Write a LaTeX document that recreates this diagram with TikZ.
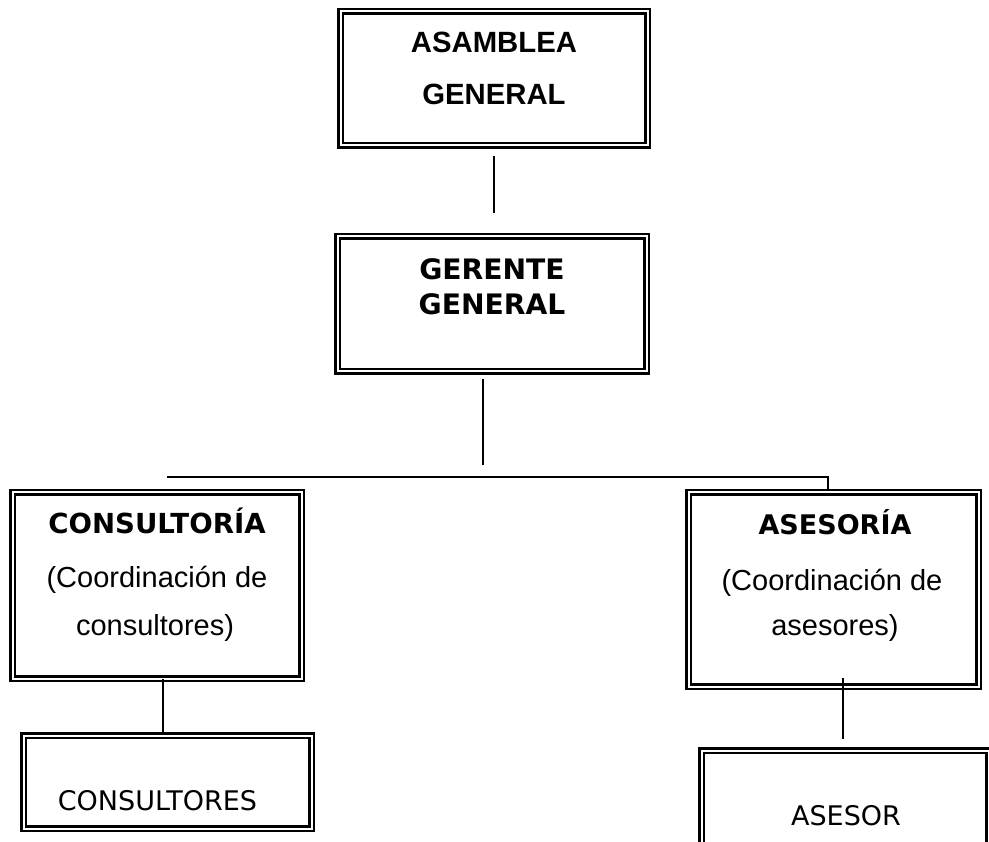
\documentclass[tikz,border=0pt]{standalone}
\usepackage{fontspec}
\newfontfamily\arialf{Liberation Sans}
\newfontfamily\verdf{DejaVu Sans}
\begin{document}
\begin{tikzpicture}[x=1pt,y=-1pt,
  orgbox/.style={draw, line width=2.5pt, double, double distance=2pt, rectangle, inner sep=0pt},
  txt/.style={anchor=base, inner sep=0pt},
  conn/.style={line width=1.5pt}]
\useasboundingbox (0,0) rectangle (989,842);
% boxes
\node[orgbox, minimum width=307pt, minimum height=134pt] (asam) at (494,78.5) {};
\node[orgbox, minimum width=309pt, minimum height=135pt] (ger) at (492,304) {};
\node[orgbox, minimum width=289pt, minimum height=186pt] (cons) at (157,585.5) {};
\node[orgbox, minimum width=290pt, minimum height=194pt] (ases) at (833.5,589.5) {};
\node[orgbox, minimum width=288pt, minimum height=93pt] (consu) at (167.5,782) {};
\node[orgbox, minimum width=287pt, minimum height=96pt] (asesor) at (845,798.5) {};
% texts
\node[txt] (t1) at (494,53) {\arialf\bfseries\fontsize{29.3}{29}\selectfont ASAMBLEA};
\node[txt] (t2) at (494,105) {\arialf\bfseries\fontsize{29.3}{29}\selectfont GENERAL};
\node[txt] (t3) at (492,280) {\verdf\bfseries\fontsize{28.2}{28}\selectfont GERENTE};
\node[txt] (t4) at (492,315) {\verdf\bfseries\fontsize{28.2}{28}\selectfont GENERAL};
\node[txt] (t5) at (157,533) {\verdf\bfseries\fontsize{27.6}{27}\selectfont CONSULTORÍA};
\node[txt] (t6) at (157,587) {\arialf\fontsize{29}{29}\selectfont (Coordinación de};
\node[txt] (t7) at (155,635) {\arialf\fontsize{29}{29}\selectfont consultores)};
\node[txt] (t8) at (835,534) {\verdf\bfseries\fontsize{27}{27}\selectfont ASESORÍA};
\node[txt] (t9) at (832,590) {\arialf\fontsize{29}{29}\selectfont (Coordinación de};
\node[txt] (t10) at (835,635) {\arialf\fontsize{29}{29}\selectfont asesores)};
\node[txt] (t11) at (157.5,810) {\verdf\fontsize{27}{27}\selectfont CONSULTORES};
\node[txt] (t12) at (846,825) {\verdf\fontsize{27}{27}\selectfont ASESOR};
% connector points
\coordinate (c1a) at (494,156);
\coordinate (c1b) at (494,213);
\coordinate (c2a) at (483,379);
\coordinate (c2b) at (483,465);
\coordinate (hl) at (167,477);
\coordinate (hr) at (828,477);
\coordinate (c3a) at (163,679);
\coordinate (c3b) at (163,735);
\coordinate (c4a) at (843,678);
\coordinate (c4b) at (843,739);
\draw[conn] (c1a) -- (c1b);
\draw[conn] (c2a) -- (c2b);
\draw[conn] (hl) -- (hr) -- (hr |- ases.north);
\draw[conn] (c3a) -- (c3b);
\draw[conn] (c4a) -- (c4b);
\end{tikzpicture}
\end{document}
